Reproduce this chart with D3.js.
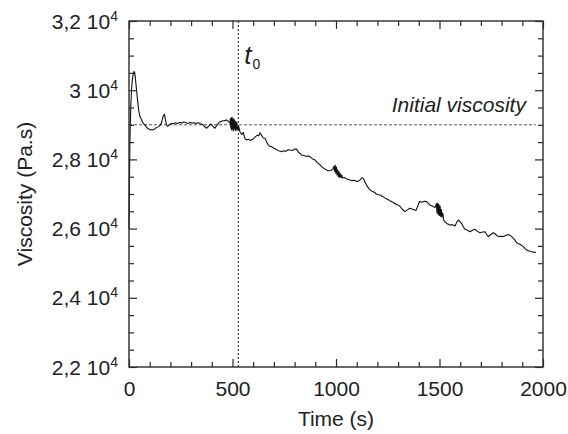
<!DOCTYPE html>
<html>
<head>
<meta charset="utf-8">
<script src="https://cdn.jsdelivr.net/npm/d3@7.9.0/dist/d3.min.js"></script>
<style>
  body { margin: 0; background: #fff; }
  svg { display: block; font-family: "Liberation Sans", Arial, sans-serif; }
</style>
</head>
<body>
<svg id="chart" width="568" height="434"></svg>
<script>
// time (s) and viscosity (Pa.s)
const timeS = [0, 2, 4, 6, 9, 12, 16, 20, 24, 27, 30, 34, 40, 46, 53, 60, 68, 77, 86, 95,
  105, 115, 122, 130, 140, 150, 158, 165, 171, 176, 181, 187, 195, 206, 215, 225, 235, 245, 255, 265,
  275, 285, 295, 305, 315, 325, 335, 345, 355, 365, 375, 385, 396, 405, 415, 425, 433, 440, 450, 460,
  472, 480, 488, 490, 492, 494, 496, 498, 500, 502, 504, 506, 508, 510, 512, 514, 516, 518, 520, 522,
  525, 530, 536, 545, 552, 560, 568, 576, 585, 593, 600, 610, 620, 627, 633, 640, 649, 657, 665, 672,
  680, 689, 698, 708, 718, 728, 737, 748, 758, 768, 778, 790, 800, 810, 820, 834, 845, 855, 866, 874,
  885, 899, 910, 920, 931, 941, 952, 963, 975, 985, 990, 993, 996, 999, 1002, 1005, 1008, 1011, 1014, 1017,
  1020, 1024, 1028, 1032, 1040, 1050, 1060, 1070, 1078, 1084, 1095, 1105, 1115, 1125, 1132, 1140, 1150, 1164, 1175, 1185,
  1195, 1205, 1213, 1225, 1237, 1249, 1261, 1270, 1280, 1293, 1301, 1310, 1320, 1333, 1345, 1357, 1370, 1386, 1395, 1403,
  1415, 1427, 1438, 1446, 1454, 1465, 1478, 1485, 1488, 1491, 1494, 1497, 1500, 1503, 1506, 1509, 1512, 1516, 1520, 1527,
  1535, 1545, 1555, 1565, 1575, 1583, 1591, 1599, 1607, 1615, 1623, 1635, 1647, 1659, 1671, 1683, 1696, 1708, 1720, 1728,
  1736, 1748, 1760, 1772, 1784, 1796, 1809, 1820, 1833, 1845, 1857, 1865, 1873, 1890, 1905, 1913, 1921, 1933, 1945, 1955,
  1966];
const viscosity = [26000, 27200, 28300, 29000, 29600, 30000, 30300, 30450, 30540, 30520, 30400, 30150, 29800, 29450, 29230, 29150, 29050, 28990, 28920, 28880,
  28860, 28850, 28870, 28910, 28940, 28980, 29080, 29250, 29300, 29150, 29000, 28950, 29010, 29040, 29030, 29060, 29040, 29070, 29050, 29080,
  29060, 29040, 29070, 29050, 29060, 29040, 29060, 29030, 29010, 28950, 28900, 28960, 29020, 28960, 28900, 28990, 29050, 29090, 29110, 29120,
  29140, 29100, 29050, 29180, 28900, 29200, 28850, 29220, 28880, 29150, 28820, 29180, 28900, 29130, 28850, 29100, 28830, 29080, 28880, 29050,
  28850, 28950, 28800, 28720, 28780, 28600, 28560, 28580, 28550, 28570, 28590, 28650, 28700, 28680, 28770, 28700, 28620, 28610, 28500, 28420,
  28380, 28370, 28330, 28300, 28260, 28240, 28220, 28250, 28230, 28280, 28270, 28260, 28300, 28290, 28200, 28130, 28110, 28090, 28100, 28080,
  28020, 27980, 27900, 27860, 27790, 27740, 27700, 27670, 27680, 27720, 27800, 27650, 27840, 27600, 27780, 27550, 27700, 27500, 27650, 27480,
  27600, 27470, 27550, 27460, 27480, 27440, 27420, 27400, 27380, 27400, 27380, 27360, 27400, 27470, 27450, 27350, 27230, 27120, 27080, 27050,
  27000, 26980, 26970, 26930, 26880, 26850, 26800, 26780, 26740, 26690, 26680, 26640, 26560, 26490, 26540, 26590, 26560, 26520, 26650, 26780,
  26760, 26790, 26780, 26730, 26680, 26650, 26610, 26720, 26450, 26740, 26400, 26700, 26380, 26650, 26350, 26550, 26330, 26450, 26250, 26190,
  26150, 26120, 26100, 26110, 26075, 26180, 26250, 26200, 26150, 26050, 25980, 25950, 25910, 25950, 25980, 25920, 25880, 25900, 25910, 25830,
  25770, 25830, 25880, 25830, 25770, 25780, 25770, 25800, 25830, 25790, 25720, 25660, 25590, 25540, 25480, 25420, 25380, 25350, 25330, 25320,
  25310];

const xTicks = [0, 500, 1000, 1500, 2000];
const yTicks = [22000, 24000, 26000, 28000, 30000, 32000];
const yTickLabels = [["2,2", "4"], ["2,4", "4"], ["2,6", "4"], ["2,8", "4"], ["3", "4"], ["3,2", "4"]];
const initialViscosity = 29000;
const initialEnd = 1966;
const t0 = 528;

const margin = { top: 21, right: 25, bottom: 67, left: 129 };
const width = 568 - margin.left - margin.right;
const height = 434 - margin.top - margin.bottom;

const svg = d3.select("#chart");
const g = svg.append("g").attr("transform", `translate(${margin.left},${margin.top})`);

const x = d3.scaleLinear().domain([0, 2000]).range([0, width]);
const y = d3.scaleLinear().domain([22000, 32000]).range([height, 0]);

const axisColor = "#2a2a2a";
const textColor = "#222";

// reference lines
g.append("line")
  .attr("x1", x(0)).attr("x2", x(initialEnd))
  .attr("y1", y(initialViscosity)).attr("y2", y(initialViscosity))
  .attr("stroke", "#555").attr("stroke-width", 1).attr("stroke-dasharray", "3,2");

g.append("line")
  .attr("x1", x(t0)).attr("x2", x(t0))
  .attr("y1", 0).attr("y2", height)
  .attr("stroke", "#111").attr("stroke-width", 1).attr("stroke-dasharray", "2,2");

// data curve
const pts = timeS.map((t, i) => [t, viscosity[i]]);
g.append("path")
  .datum(pts)
  .attr("fill", "none")
  .attr("stroke", "#111")
  .attr("stroke-width", 1.1)
  .attr("stroke-linejoin", "round")
  .attr("d", d3.line().x(d => x(d[0])).y(d => y(d[1])));

// axes, ticks pointing inward on all four sides
const xMinor = d3.range(0, 2001, 100).filter(v => v % 500 !== 0);
const yMinor = d3.range(22000, 32001, 500).filter(v => v % 2000 !== 0);

function styleAxis(sel) {
  sel.select(".domain").remove();
  sel.selectAll("line").attr("stroke", axisColor).attr("stroke-width", 1.2);
  sel.selectAll("text").attr("fill", textColor).attr("font-size", 21)
    .attr("font-family", "'Liberation Sans', Arial, sans-serif");
}

g.append("g").attr("transform", `translate(0,${height})`)
  .call(d3.axisBottom(x).tickValues(xTicks).tickSize(-8).tickPadding(14).tickFormat(d3.format("d")))
  .call(styleAxis);
g.append("g").attr("transform", `translate(0,${height})`)
  .call(d3.axisBottom(x).tickValues(xMinor).tickSize(-5).tickFormat(""))
  .call(styleAxis);
g.append("g")
  .call(d3.axisTop(x).tickValues(xTicks).tickSize(-8).tickFormat(""))
  .call(styleAxis);
g.append("g")
  .call(d3.axisTop(x).tickValues(xMinor).tickSize(-5).tickFormat(""))
  .call(styleAxis);

g.append("g")
  .call(d3.axisLeft(y).tickValues(yTicks).tickSize(-8).tickFormat(""))
  .call(styleAxis);
g.append("g")
  .call(d3.axisLeft(y).tickValues(yMinor).tickSize(-5).tickFormat(""))
  .call(styleAxis);
g.append("g").attr("transform", `translate(${width},0)`)
  .call(d3.axisRight(y).tickValues(yTicks).tickSize(-8).tickFormat(""))
  .call(styleAxis);
g.append("g").attr("transform", `translate(${width},0)`)
  .call(d3.axisRight(y).tickValues(yMinor).tickSize(-5).tickFormat(""))
  .call(styleAxis);

// frame
g.append("rect")
  .attr("width", width).attr("height", height)
  .attr("fill", "none").attr("stroke", axisColor).attr("stroke-width", 1.4);

// y tick labels like "2,8 10^4"
const yl = g.append("g").attr("fill", textColor).attr("font-size", 21);
yTicks.forEach((v, i) => {
  const t = yl.append("text")
    .attr("x", -11).attr("y", y(v) + 7.5)
    .attr("text-anchor", "end");
  t.append("tspan").text(yTickLabels[i][0] + " 10");
  t.append("tspan").attr("font-size", 14).attr("dy", -8).text(yTickLabels[i][1]);
});

// axis titles
svg.append("text")
  .attr("x", margin.left + width / 2).attr("y", 426)
  .attr("text-anchor", "middle").attr("fill", textColor).attr("font-size", 21)
  .text("Time (s)");

svg.append("text")
  .attr("transform", `translate(32,${margin.top + height / 2}) rotate(-90)`)
  .attr("text-anchor", "middle").attr("fill", textColor).attr("font-size", 21)
  .text("Viscosity (Pa.s)");

// annotations
g.append("text")
  .attr("x", x(initialEnd) - 10).attr("y", y(initialViscosity) - 13)
  .attr("text-anchor", "end").attr("fill", textColor)
  .attr("font-size", 21).attr("font-style", "italic")
  .text("Initial viscosity");

const t0Label = g.append("text")
  .attr("x", x(t0) + 6).attr("y", 43)
  .attr("fill", textColor).attr("font-style", "italic").attr("font-size", 26);
t0Label.append("tspan").text("t");
t0Label.append("tspan").attr("font-style", "normal").attr("font-size", 14).attr("dy", 5).attr("dx", 1).text("0");
</script>
</body>
</html>
